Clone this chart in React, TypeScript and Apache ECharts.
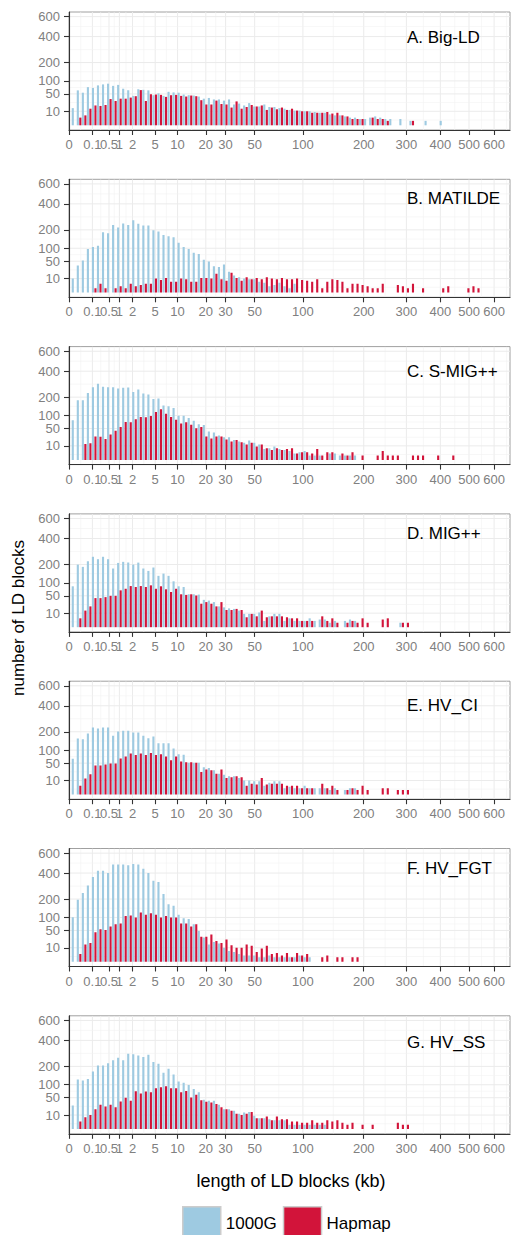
import React, { useEffect, useRef } from 'react';
import * as echarts from 'echarts';

// ---------- data ----------
const panelTitles = ['A. Big-LD', 'B. MATILDE', 'C. S-MIG++', 'D. MIG++', 'E. HV_CI', 'F. HV_FGT', 'G. HV_SS'];
const seriesNames = ['1000G', 'Hapmap'];
const xTickValues = [0, 0.1, 0.5, 1, 2, 5, 10, 20, 30, 50, 100, 200, 300, 400, 500, 600];
const xTickLabels = ['0', '0.1', '0.5', '1', '2', '5', '10', '20', '30', '50', '100', '200', '300', '400', '500', '600'];
const yTickValues = [10, 50, 100, 200, 400, 600];
const yTickLabels = ['10', '50', '100', '200', '400', '600'];
// histogram bins: width 0.1 on the cube-root(kb) scale, k-th entry = bin centred at 0.1*k
const binStep = 0.1;

const bigLD1000G = [15, 62, 54, 74, 71, 81, 85, 88, 79, 83, 68, 62, 44, 66, 64, 62, 46, 52, 44, 57, 55, 54, 48, 46, 45, 42, 36, 38, 34, 34, 31, 34, 22, 24, 20, 25, 18, 18, 22, 17, 17, 15, 14, 12, 11, 11, 10, 10, 9, 8, 8, 6, 5, 5, 4, 3, 3, 2, 2, 3, 4, 3, 2, 2, 0, 2, 0, 1, 0, 0, 1, 0, 0, 1];
const bigLDHapmap = [0, 3, 5, 14, 20, 19, 21, 35, 30, 36, 36, 39, 43, 63, 30, 49, 48, 47, 41, 46, 47, 44, 42, 45, 43, 32, 22, 22, 31, 23, 22, 16, 29, 14, 17, 21, 18, 20, 12, 16, 13, 16, 12, 14, 11, 10, 10, 8, 8, 8, 9, 7, 8, 5, 4, 2, 2, 2, 0, 3, 2, 2, 1, 0, 0, 0, 0, 1];
const matilde1000G = [10, 37, 52, 97, 106, 112, 185, 179, 233, 215, 242, 233, 266, 240, 228, 228, 198, 189, 169, 161, 156, 126, 106, 97, 81, 76, 55, 49, 35, 33, 40, 22, 15, 12, 10, 9, 9, 6, 5, 2, 3, 5, 2, 1, 4];
const matildeHapmap = [0, 0, 0, 0, 1, 4, 1, 0, 1, 2, 1, 4, 2, 3, 4, 4, 10, 8, 11, 6, 6, 10, 9, 6, 6, 11, 11, 10, 18, 9, 7, 20, 11, 7, 12, 9, 11, 9, 12, 10, 9, 11, 9, 9, 10, 8, 7, 6, 9, 1, 6, 9, 8, 6, 1, 4, 4, 3, 2, 1, 1, 4, 0, 0, 3, 2, 1, 4, 0, 1, 0, 0, 0, 1, 2, 0, 0, 0, 1, 2, 1];
const smig1000G = [80, 181, 181, 228, 269, 294, 271, 269, 269, 259, 264, 266, 235, 252, 224, 217, 189, 191, 151, 146, 137, 99, 99, 89, 78, 65, 62, 41, 38, 30, 26, 26, 20, 17, 15, 19, 15, 12, 6, 7, 9, 6, 5, 4, 2, 3, 4, 1, 1, 1, 0, 2, 2, 1, 1, 1, 1];
const smigHapmap = [0, 0, 13, 14, 28, 27, 22, 33, 43, 55, 73, 72, 84, 93, 92, 98, 117, 130, 108, 93, 82, 67, 72, 63, 51, 55, 28, 23, 28, 28, 21, 17, 20, 16, 12, 15, 9, 12, 7, 5, 7, 5, 6, 7, 2, 3, 3, 2, 6, 1, 3, 3, 0, 2, 1, 3, 0, 1, 0, 0, 1, 4, 1, 1, 1, 0, 0, 1, 1, 1, 0, 0, 1, 0, 0, 1];
const mig1000G = [85, 199, 185, 221, 252, 235, 252, 235, 175, 210, 217, 212, 199, 212, 175, 161, 181, 134, 146, 134, 107, 85, 82, 55, 55, 54, 38, 36, 32, 22, 20, 18, 17, 14, 9, 9, 9, 11, 2, 6, 9, 9, 2, 4, 2, 2, 2, 4, 2, 3, 3, 1, 2, 0, 2, 3, 2, 0, 0, 0, 0, 0, 0, 0, 0, 1];
const migHapmap = [0, 4, 14, 22, 43, 43, 46, 50, 50, 69, 75, 86, 82, 86, 82, 89, 75, 85, 73, 63, 75, 55, 53, 55, 51, 28, 32, 28, 22, 32, 15, 15, 17, 15, 5, 9, 6, 14, 5, 6, 6, 6, 5, 4, 4, 2, 2, 2, 0, 6, 2, 4, 1, 0, 1, 2, 1, 4, 1, 0, 0, 3, 4, 0, 0, 1, 1];
const hvci1000G = [65, 159, 155, 189, 228, 221, 228, 228, 175, 201, 206, 206, 195, 195, 175, 161, 171, 134, 134, 134, 107, 82, 80, 51, 51, 51, 38, 36, 30, 22, 20, 17, 17, 14, 10, 10, 9, 9, 4, 7, 9, 9, 2, 3, 2, 2, 4, 2, 2, 2, 2, 1, 2, 0, 1, 2, 2];
const hvciHapmap = [0, 4, 13, 21, 43, 43, 46, 49, 49, 66, 73, 85, 79, 85, 79, 88, 79, 82, 73, 60, 73, 55, 53, 53, 51, 26, 32, 30, 22, 32, 14, 15, 17, 15, 4, 6, 5, 14, 5, 6, 6, 6, 4, 4, 4, 2, 2, 2, 0, 6, 2, 4, 1, 0, 1, 2, 1, 4, 1, 0, 0, 2, 2, 0, 1, 1, 1];
const hvfgt1000G = [101, 195, 240, 296, 365, 422, 422, 401, 480, 480, 480, 473, 487, 480, 440, 401, 334, 323, 233, 169, 159, 112, 96, 93, 72, 48, 30, 15, 20, 17, 10, 6, 5, 3, 2, 2, 2, 1, 1, 2, 1, 1, 1, 1, 1, 2, 1, 1];
const hvfgtHapmap = [0, 3, 15, 18, 44, 54, 51, 63, 72, 75, 107, 109, 100, 123, 112, 120, 112, 100, 107, 100, 100, 75, 75, 63, 72, 32, 32, 38, 22, 18, 25, 14, 10, 10, 15, 13, 5, 9, 13, 3, 4, 2, 4, 1, 4, 2, 3, 0, 0, 1, 2, 0, 1, 1, 0, 1, 1];
const hvss1000G = [28, 125, 120, 128, 169, 206, 206, 221, 240, 259, 240, 289, 284, 276, 264, 281, 228, 217, 161, 185, 151, 115, 109, 99, 82, 69, 44, 41, 41, 30, 20, 20, 17, 12, 14, 15, 9, 6, 6, 5, 4, 4, 4, 1, 1, 1, 1, 1, 1, 1, 1];
const hvssHapmap = [0, 3, 7, 10, 20, 30, 26, 30, 24, 39, 50, 41, 73, 64, 72, 69, 85, 89, 93, 85, 85, 69, 74, 51, 60, 42, 38, 36, 32, 24, 20, 17, 12, 10, 12, 15, 6, 6, 8, 4, 8, 5, 5, 3, 3, 2, 2, 4, 2, 2, 4, 3, 4, 2, 1, 2, 0, 1, 0, 1, 0, 0, 0, 0, 2, 1, 1];

const panel1000G = [bigLD1000G, matilde1000G, smig1000G, mig1000G, hvci1000G, hvfgt1000G, hvss1000G];
const panelHapmap = [bigLDHapmap, matildeHapmap, smigHapmap, migHapmap, hvciHapmap, hvfgtHapmap, hvssHapmap];

// ---------- layout / style ----------
const FONT = '"Liberation Sans", Arial, Helvetica, sans-serif';
const W = 512;
const H = 1235;
const GRID_LEFT = 69;
const GRID_RIGHT = 2;
const GRID_TOP0 = 12;
const GRID_STEP = 167.3;
const GRID_H = 118;
const titleOffsets = [25.3, 18.7, 24.7, 19.7, 24.7, 19.7, 26.3];
const X_MAX = 8.75; // cube-root scale
const Y_MIN = -1.06; // sqrt scale
const Y_MAX = 25.54;
const COLOR_1000G = '#9ECAE1';
const COLOR_HAPMAP = '#D2143A';
const TICK_GREY = '#808080';

const xT = (v: number) => Math.cbrt(v);
const yT = (v: number) => Math.sqrt(v);

const xTickPos = xTickValues.map(xT);
const yTickPos = yTickValues.map(yT);

function midMinor(pos: number[], lo: number, hi: number): number[] {
  const out: number[] = [];
  for (let i = 0; i < pos.length - 1; i++) out.push((pos[i] + pos[i + 1]) / 2);
  const first = pos[0] - (pos[1] - pos[0]) / 2;
  const last = pos[pos.length - 1] + (pos[pos.length - 1] - pos[pos.length - 2]) / 2;
  if (first > lo) out.push(first);
  if (last < hi) out.push(last);
  return out;
}
const xMinorPos = midMinor(xTickPos, 0, X_MAX);
const yMinorPos = midMinor(yTickPos, Y_MIN, Y_MAX);

function labelFor(positions: number[], labels: string[], v: number) {
  let best = 0;
  let d = Infinity;
  positions.forEach((p, i) => {
    const dd = Math.abs(p - v);
    if (dd < d) {
      d = dd;
      best = i;
    }
  });
  return labels[best];
}

function barRender(side: number) {
  return (params: any, api: any) => {
    const c = api.value(0) as number;
    const s = api.value(1) as number;
    const x0 = side < 0 ? c - binStep / 2 : c;
    const x1 = side < 0 ? c : c + binStep / 2;
    const pb = api.coord([x0, 0]);
    const pt = api.coord([x1, s]);
    const inset = 0.2;
    return {
      type: 'rect',
      shape: { x: pb[0] + inset, y: pt[1], width: Math.max(0.5, pt[0] - pb[0] - 2 * inset), height: pb[1] - pt[1] },
      style: { fill: api.visual('color') },
    };
  };
}

function vGridRender(params: any, api: any) {
  const v = api.value(0) as number;
  const major = api.value(1) as number;
  const a = api.coord([v, Y_MIN]);
  const b = api.coord([v, Y_MAX]);
  return {
    type: 'line',
    shape: { x1: a[0], y1: a[1], x2: b[0], y2: b[1] },
    style: { stroke: major ? '#EBEBEB' : '#F2F2F2', lineWidth: major ? 1 : 0.6 },
  };
}

function hGridRender(params: any, api: any) {
  const v = api.value(1) as number;
  const major = api.value(2) as number;
  const a = api.coord([0, v]);
  const b = api.coord([X_MAX, v]);
  return {
    type: 'line',
    shape: { x1: a[0], y1: a[1], x2: b[0], y2: b[1] },
    style: { stroke: major ? '#EBEBEB' : '#F2F2F2', lineWidth: major ? 1 : 0.6 },
  };
}

function buildOption() {
  const grids: any[] = [];
  const xAxes: any[] = [];
  const yAxes: any[] = [];
  const series: any[] = [];
  const graphics: any[] = [];

  panelTitles.forEach((title, i) => {
    const top = GRID_TOP0 + GRID_STEP * i;
    grids.push({
      left: GRID_LEFT,
      right: GRID_RIGHT,
      top,
      height: GRID_H,
      show: true,
      borderColor: '#A0A0A0',
      borderWidth: 1,
      backgroundColor: '#FFFFFF',
      containLabel: false,
      outerBoundsMode: 'none',
    });
    xAxes.push({
      type: 'value',
      gridIndex: i,
      min: 0,
      max: X_MAX,
      z: 10,
      axisLine: { show: true, onZero: false, lineStyle: { color: '#333333', width: 1.1 } },
      axisTick: { show: true, length: 5, customValues: xTickPos, lineStyle: { color: '#333333', width: 1.1 } },
      axisLabel: {
        show: true,
        customValues: xTickPos,
        formatter: (v: number) => labelFor(xTickPos, xTickLabels, v),
        color: TICK_GREY,
        fontSize: 13,
        fontFamily: FONT,
        margin: 8,
        hideOverlap: false,
      },
      splitLine: { show: false },
    });
    yAxes.push({
      type: 'value',
      gridIndex: i,
      min: Y_MIN,
      max: Y_MAX,
      z: 10,
      axisLine: { show: true, onZero: false, lineStyle: { color: '#333333', width: 1.1 } },
      axisTick: { show: true, length: 5, customValues: yTickPos, lineStyle: { color: '#333333', width: 1.1 } },
      axisLabel: {
        show: true,
        customValues: yTickPos,
        formatter: (v: number) => labelFor(yTickPos, yTickLabels, v),
        color: TICK_GREY,
        fontSize: 13,
        fontFamily: FONT,
        margin: 9,
      },
      splitLine: { show: false },
    });

    const vData = xTickPos.map((p) => [p, 1]).concat(xMinorPos.map((p) => [p, 0]));
    const hData = yTickPos.map((p) => [0, p, 1]).concat(yMinorPos.map((p) => [0, p, 0]));
    series.push({
      type: 'custom',
      xAxisIndex: i,
      yAxisIndex: i,
      silent: true,
      z: 1,
      clip: true,
      renderItem: vGridRender,
      data: vData,
    });
    series.push({
      type: 'custom',
      xAxisIndex: i,
      yAxisIndex: i,
      silent: true,
      z: 1,
      clip: true,
      renderItem: hGridRender,
      data: hData,
    });

    const g = panel1000G[i];
    const h = panelHapmap[i];
    series.push({
      type: 'custom',
      name: seriesNames[0],
      xAxisIndex: i,
      yAxisIndex: i,
      z: 3,
      clip: true,
      itemStyle: { color: COLOR_1000G },
      renderItem: barRender(-1),
      data: g
        .map((n, k) => [binStep * (k + 1), yT(n)])
        .filter((d) => d[1] > 0),
    });
    series.push({
      type: 'custom',
      name: seriesNames[1],
      xAxisIndex: i,
      yAxisIndex: i,
      z: 3,
      clip: true,
      itemStyle: { color: COLOR_HAPMAP },
      renderItem: barRender(1),
      data: h
        .map((n, k) => [binStep * (k + 1), yT(n)])
        .filter((d) => d[1] > 0),
    });

    graphics.push({
      type: 'text',
      x: 407,
      y: top + titleOffsets[i],
      z: 20,
      style: {
        text: title,
        font: `17px ${FONT}`,
        fill: '#000000',
        align: 'left',
        verticalAlign: 'middle',
        textAlign: 'left',
        textVerticalAlign: 'middle',
      },
    });
  });

  graphics.push({
    type: 'text',
    x: 291,
    y: 1181,
    style: {
      text: 'length of LD blocks (kb)',
      font: `18px ${FONT}`,
      fill: '#000000',
      align: 'center',
      verticalAlign: 'middle',
      textAlign: 'center',
      textVerticalAlign: 'middle',
    },
  });
  graphics.push({
    type: 'text',
    x: 18,
    y: 618,
    rotation: Math.PI / 2,
    style: {
      text: 'number of LD blocks',
      font: `17px ${FONT}`,
      fill: '#000000',
      align: 'center',
      verticalAlign: 'middle',
      textAlign: 'center',
      textVerticalAlign: 'middle',
    },
  });

  return {
    animation: false,
    backgroundColor: '#FFFFFF',
    textStyle: { fontFamily: FONT },
    grid: grids,
    xAxis: xAxes,
    yAxis: yAxes,
    series,
    graphic: graphics,
    legend: {
      left: 177,
      top: 1201,
      orient: 'horizontal',
      icon: 'rect',
      itemWidth: 38,
      itemHeight: 33,
      itemGap: 6,
      data: seriesNames,
      selectedMode: false,
      textStyle: { fontSize: 17, color: '#000000', fontFamily: FONT },
      itemStyle: { borderColor: '#CCCCCC', borderWidth: 1.5 },
    },
  };
}

export default function App() {
  const ref = useRef<HTMLDivElement>(null);
  useEffect(() => {
    if (!ref.current) return;
    const chart = echarts.init(ref.current, undefined, { renderer: 'svg', width: W, height: H });
    chart.setOption(buildOption() as any);
    return () => chart.dispose();
  }, []);
  return (
    <div
      ref={ref}
      style={{ position: 'fixed', left: 0, top: 0, width: W, height: H, background: '#fff' }}
    />
  );
}
